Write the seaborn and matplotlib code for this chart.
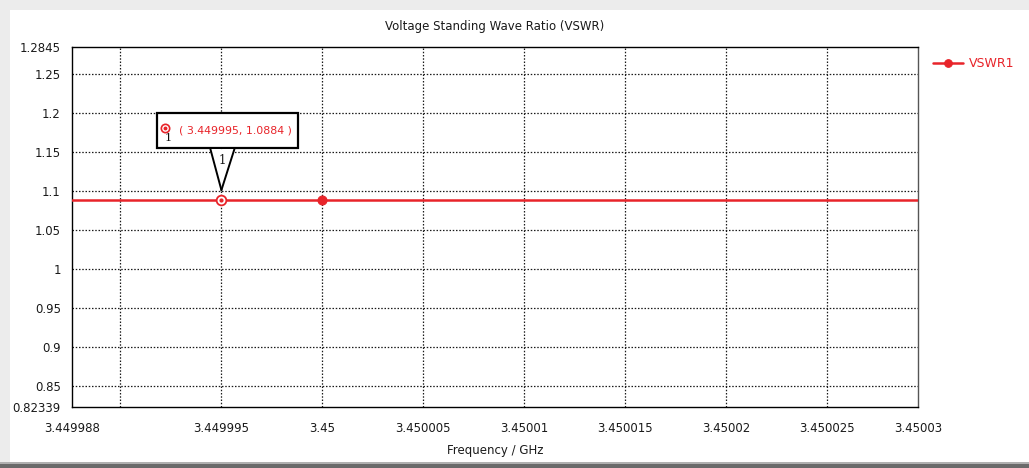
import matplotlib
matplotlib.use("Agg")
import matplotlib.pyplot as plt
from matplotlib.patches import Rectangle, Polygon
import pandas as pd
import seaborn as sns

# Sweep data (frequency in GHz, VSWR)
freq_ghz = [3.4499876, 3.45, 3.4500295]
vswr = [1.0884, 1.0884, 1.0884]
series_name = "VSWR1"

# Marker readout
marker_freq = 3.449995
marker_vswr = 1.0884
marker_id = "1"

# Axis ticks
x_grid = [3.44999, 3.449995, 3.45, 3.450005, 3.45001, 3.450015, 3.45002, 3.450025]
x_labels = ["3.449988", "", "3.449995", "3.45", "3.450005", "3.45001",
            "3.450015", "3.45002", "3.450025", "3.45003"]
y_ticks = [0.82339, 0.85, 0.9, 0.95, 1.0, 1.05, 1.1, 1.15, 1.2, 1.25, 1.2845]
y_labels = ["0.82339", "0.85", "0.9", "0.95", "1", "1.05", "1.1", "1.15",
            "1.2", "1.25", "1.2845"]

sns.set_theme(style="white")
plt.rcParams["font.family"] = ["DejaVu Sans"]

RED = "#e8242a"
TXT = "#1a1a1a"
W, H = 1029, 468
fig = plt.figure(figsize=(W / 100, H / 100), dpi=100)
fig.patch.set_facecolor("#ececec")

# white panel with a darker lower edge
for rect in [
    Rectangle((10 / W, 6 / H), 1 - 10 / W, 1 - 16 / H, facecolor="white"),
    Rectangle((0, 0), 1, 4 / H, facecolor="#6a6a6a"),
    Rectangle((0, 4 / H), 1, 2 / H, facecolor="#b0b0b0"),
]:
    rect.set_transform(fig.transFigure)
    rect.set_edgecolor("none")
    rect.set_zorder(-10)
    fig.add_artist(rect)

ax = fig.add_axes([72 / W, 1 - 407 / H, 846 / W, 360 / H])
ax.set_facecolor("white")
ax.set_zorder(1)

df = pd.DataFrame({"Frequency": freq_ghz, "VSWR": vswr})
sns.lineplot(data=df, x="Frequency", y="VSWR", ax=ax, color=RED, linewidth=1.8,
             marker="o", markersize=6.5, markevery=[1], markeredgecolor=RED,
             markerfacecolor=RED, label=series_name, zorder=3)

xmin, xmax = freq_ghz[0], freq_ghz[-1]
ax.set_xlim(xmin, xmax)
ax.set_ylim(y_ticks[0], y_ticks[-1])

ax.set_xticks([xmin] + x_grid + [xmax])
ax.set_xticklabels(x_labels)
ax.set_yticks(y_ticks)
ax.set_yticklabels(y_labels)
ax.tick_params(axis="both", direction="out", length=5, width=1, color="black",
               labelsize=8.5, labelcolor=TXT, pad=3)
ax.tick_params(axis="x", pad=6)

# dotted grid
for xv in x_grid:
    ax.axvline(xv, color=TXT, linestyle=(0, (1.2, 1.4)), linewidth=0.9, zorder=1)
for yv in y_ticks[1:-1]:
    ax.axhline(yv, color=TXT, linestyle=(0, (1.2, 1.4)), linewidth=0.9, zorder=1)

for s in ax.spines.values():
    s.set_visible(True)
    s.set_color("black")
    s.set_linewidth(1.0)
ax.spines["right"].set_color("#555555")

ax.set_title("Voltage Standing Wave Ratio (VSWR)", fontsize=8.5, color=TXT, pad=12)
ax.set_xlabel("Frequency / GHz", fontsize=8.5, color=TXT, labelpad=6)
ax.set_ylabel("")

leg = ax.legend(loc="upper left", bbox_to_anchor=(1.012, 0.985), frameon=False,
                fontsize=9, labelcolor=RED, handlelength=2.4, borderaxespad=0,
                handletextpad=0.5, markerscale=0.85)

# marker symbol on the trace
ax.plot([marker_freq], [marker_vswr], marker="o", markersize=7, markerfacecolor="white",
        markeredgecolor=RED, markeredgewidth=1.3, linestyle="none", zorder=4)
ax.plot([marker_freq], [marker_vswr], marker="o", markersize=2, color=RED,
        linestyle="none", zorder=5)

# readout callout, laid out in pixels relative to the marker point
px = ax.transData.transform((marker_freq, marker_vswr))


def p2d(dx, dy):
    return ax.transData.inverted().transform((px[0] + dx, px[1] + dy))


bx0, bx1, by0, by1 = -64, 77, 52, 87
corners = [p2d(bx0, by0), p2d(bx1, by0), p2d(bx1, by1), p2d(bx0, by1)]
ax.add_patch(Polygon(corners, closed=True, facecolor="white", edgecolor="black",
                     linewidth=1.6, zorder=6, clip_on=False))
# pointer: white wedge with two dark sides
tri = [p2d(-11, 51), p2d(13, 51), p2d(0, 10)]
ax.add_patch(Polygon(tri, closed=True, facecolor="white", edgecolor="none",
                     zorder=6, clip_on=False))
for side in ([tri[0], tri[2]], [tri[1], tri[2]]):
    ax.plot([side[0][0], side[1][0]], [side[0][1], side[1][1]], color="black",
            linewidth=1.4, zorder=7, clip_on=False, solid_capstyle="round")

tx, ty = p2d(1, 40)
ax.text(tx, ty, marker_id, fontsize=8.5, family="DejaVu Serif", ha="center",
        va="center", color="#111111", zorder=7)

# small marker glyph inside the box
gx, gy = p2d(-56, 72)
ax.plot([gx], [gy], marker="o", markersize=6, markerfacecolor="white",
        markeredgecolor=RED, markeredgewidth=1.2, zorder=7, clip_on=False)
ax.plot([gx], [gy], marker="o", markersize=1.8, color=RED, zorder=8, clip_on=False)
nx, ny = p2d(-53, 62)
ax.text(nx, ny, marker_id, fontsize=8, family="DejaVu Serif", ha="center",
        va="center", color="#111111", zorder=8)
lx, ly = p2d(-42, 70)
ax.text(lx, ly, f"( {marker_freq:.6f}, {marker_vswr:.4f} )", fontsize=7.9,
        ha="left", va="center", color=RED, zorder=8)

fig.savefig("out.png", dpi=100, facecolor=fig.get_facecolor())
